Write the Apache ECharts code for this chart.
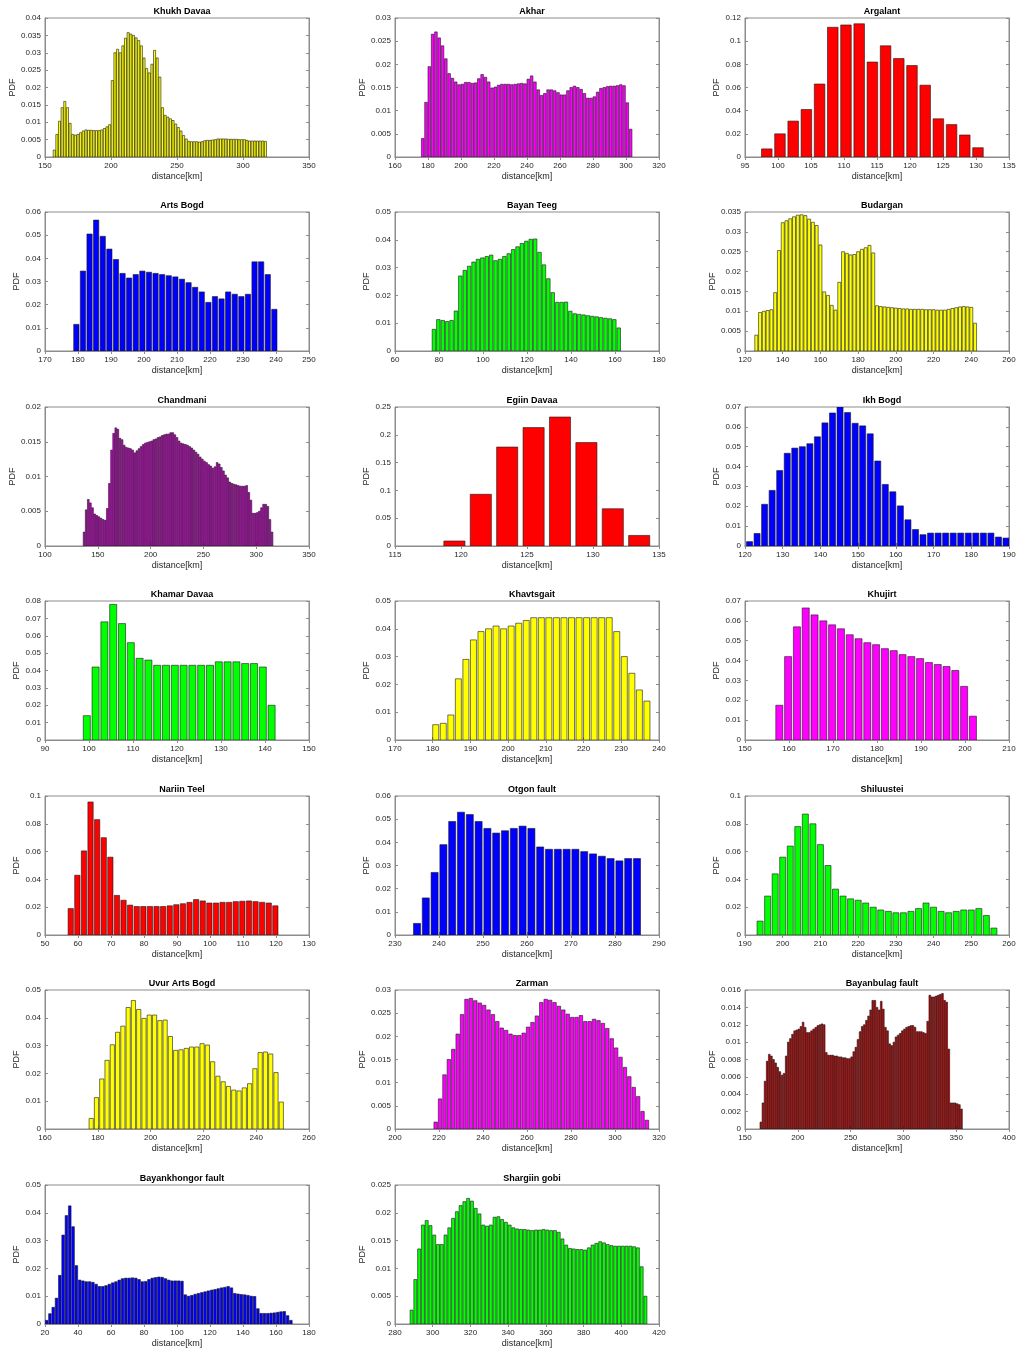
<!DOCTYPE html>
<html><head><meta charset="utf-8">
<script src="https://cdn.jsdelivr.net/npm/echarts@6/dist/echarts.min.js"></script>
<style>html,body{margin:0;padding:0;background:#fff}#c{width:1021px;height:1349px}</style>
</head><body><div id="c"></div>
<script>
// ---------- DATA ----------
const panelNames = ["Khukh Davaa","Akhar","Argalant","Arts Bogd","Bayan Teeg","Budargan","Chandmani","Egiin Davaa","Ikh Bogd","Khamar Davaa","Khavtsgait","Khujirt","Nariin Teel","Otgon fault","Shiluustei","Uvur Arts Bogd","Zarman","Bayanbulag fault","Bayankhongor fault","Shargiin gobi"];

// first bin centre [km], bin width [km]
const binStarts = [157, 176.8, 98.3, 179.5, 77.7, 126, 137, 119.5, 121.2, 99.5, 180.8, 157.8, 57.8, 235, 194, 177.5, 218.5, 165, 21, 288.8];
const binWidths = [2,2,2,2,2,2,2,2,2,2,2,2,2,2,2,2,2,2,2,2];

// x axis: [min, max, interval]; y axis: [min, max, interval]
const xAxisTicks = [[150,350,50],[160,320,20],[95,135,5],[170,250,10],[60,180,20],[120,260,20],[100,350,50],[115,135,5],[120,190,10],[90,150,10],[170,240,10],[150,210,10],[50,130,10],[230,290,10],[190,260,10],[160,260,20],[200,320,20],[150,400,50],[20,180,20],[280,420,20]];
const yAxisTicks = [[0,0.04,0.005],[0,0.03,0.005],[0,0.12,0.02],[0,0.06,0.01],[0,0.05,0.01],[0,0.035,0.005],[0,0.02,0.005],[0,0.25,0.05],[0,0.07,0.01],[0,0.08,0.01],[0,0.05,0.01],[0,0.07,0.01],[0,0.1,0.02],[0,0.06,0.01],[0,0.1,0.02],[0,0.05,0.01],[0,0.03,0.005],[0,0.016,0.002],[0,0.05,0.01],[0,0.025,0.005]];

const khukhDavaa = [0.002,0.0065,0.0103,0.0142,0.016,0.0142,0.0097,0.0065,0.0063,0.0065,0.007,0.0075,0.0078,0.0077,0.0077,0.0076,0.0076,0.0076,0.0078,0.0082,0.0087,0.0093,0.022,0.030,0.031,0.030,0.032,0.0342,0.0358,0.0354,0.035,0.0343,0.0335,0.032,0.0285,0.0255,0.0242,0.0267,0.0307,0.0285,0.023,0.0142,0.012,0.0115,0.011,0.0105,0.0095,0.0085,0.0075,0.0062,0.0052,0.0045,0.0044,0.0044,0.0044,0.0043,0.0044,0.0047,0.0048,0.0048,0.0049,0.005,0.0052,0.0052,0.0052,0.0052,0.0051,0.0051,0.0051,0.0051,0.005,0.005,0.005,0.0048,0.0046,0.0046,0.0046,0.0046,0.0046,0.0046,0.0045];
const akhar = [0.004,0.0118,0.0195,0.0265,0.027,0.0257,0.024,0.0212,0.018,0.017,0.0162,0.0156,0.0157,0.0161,0.0161,0.0159,0.016,0.0169,0.0178,0.0172,0.0162,0.0149,0.0151,0.0155,0.0157,0.0157,0.0157,0.0156,0.0157,0.0158,0.0159,0.0158,0.0168,0.0175,0.0162,0.0145,0.0133,0.0137,0.0145,0.0145,0.0143,0.0139,0.0134,0.0134,0.0143,0.015,0.0153,0.015,0.0146,0.0137,0.0127,0.0127,0.013,0.014,0.0148,0.015,0.0152,0.0153,0.0153,0.0154,0.0156,0.0154,0.0117,0.006];
const argalant = [0.007,0.020,0.031,0.041,0.063,0.112,0.114,0.115,0.082,0.096,0.085,0.079,0.062,0.033,0.028,0.019,0.008];
const artsBogd = [0.0115,0.0345,0.0505,0.0565,0.0495,0.044,0.0395,0.0335,0.0315,0.033,0.0345,0.034,0.0335,0.033,0.0325,0.032,0.031,0.0295,0.0275,0.0255,0.021,0.0235,0.0225,0.0255,0.0245,0.0235,0.0245,0.0385,0.0385,0.033,0.018];
const bayanTeeg = [0.0078,0.0113,0.011,0.0106,0.011,0.0144,0.027,0.029,0.0305,0.032,0.033,0.0335,0.034,0.0345,0.0325,0.033,0.034,0.035,0.0365,0.0375,0.0387,0.0395,0.0402,0.0403,0.0355,0.031,0.026,0.021,0.0175,0.0175,0.0176,0.0143,0.0134,0.0132,0.013,0.0127,0.0125,0.0123,0.012,0.0118,0.0116,0.0113,0.0083];
const budargan = [0.004,0.0097,0.01,0.0102,0.0104,0.0147,0.0253,0.0323,0.0328,0.0333,0.0338,0.0342,0.0343,0.0341,0.0332,0.0324,0.0316,0.0267,0.0149,0.014,0.0115,0.0103,0.0173,0.025,0.0246,0.0242,0.0243,0.025,0.0256,0.026,0.0266,0.0247,0.0114,0.0112,0.0111,0.011,0.0109,0.0108,0.0107,0.0106,0.0106,0.0105,0.0105,0.0105,0.0105,0.0104,0.0104,0.0104,0.0103,0.0103,0.0103,0.0105,0.0107,0.0109,0.0111,0.0112,0.0111,0.011,0.007];
const chandmani = [0.002,0.0052,0.0067,0.0062,0.0055,0.0046,0.0044,0.0042,0.004,0.0038,0.0037,0.0054,0.009,0.0138,0.0162,0.017,0.0168,0.0155,0.0153,0.0145,0.0142,0.0141,0.014,0.0138,0.0134,0.0137,0.014,0.0143,0.0146,0.0148,0.0149,0.015,0.0151,0.0153,0.0154,0.0156,0.0157,0.0159,0.016,0.0161,0.0161,0.0163,0.0163,0.016,0.0156,0.0151,0.0148,0.0147,0.0146,0.0145,0.0143,0.0141,0.0138,0.0135,0.0132,0.0128,0.0125,0.0122,0.012,0.0117,0.0115,0.0112,0.0114,0.012,0.0118,0.0113,0.0108,0.0102,0.0098,0.0092,0.009,0.0089,0.0088,0.0087,0.0086,0.0086,0.0086,0.0087,0.0077,0.0066,0.0047,0.0047,0.0048,0.005,0.0055,0.006,0.006,0.0057,0.0038,0.002];
const egiinDavaa = [0.009,0.093,0.178,0.213,0.232,0.186,0.067,0.019];
const ikhBogd = [0.0022,0.0063,0.021,0.028,0.038,0.0467,0.0493,0.05,0.0515,0.055,0.062,0.067,0.07,0.0672,0.0618,0.0605,0.0565,0.0428,0.031,0.0273,0.0202,0.0132,0.0083,0.0057,0.0065,0.0065,0.0065,0.0065,0.0065,0.0065,0.0065,0.0065,0.0065,0.0045,0.004];
const khamarDavaa = [0.014,0.042,0.068,0.078,0.067,0.056,0.047,0.046,0.043,0.043,0.043,0.043,0.043,0.043,0.043,0.045,0.045,0.045,0.044,0.044,0.042,0.020];
const khavtsgait = [0.0055,0.006,0.009,0.022,0.029,0.036,0.039,0.040,0.041,0.040,0.041,0.042,0.043,0.044,0.044,0.044,0.044,0.044,0.044,0.044,0.044,0.044,0.044,0.044,0.039,0.030,0.024,0.018,0.014];
const khujirt = [0.0175,0.042,0.057,0.0665,0.063,0.060,0.058,0.056,0.053,0.051,0.049,0.048,0.046,0.045,0.043,0.042,0.041,0.039,0.038,0.037,0.035,0.027,0.012];
const nariinTeel = [0.019,0.043,0.0605,0.0957,0.083,0.070,0.056,0.0285,0.025,0.0215,0.0205,0.0205,0.0205,0.0205,0.0205,0.021,0.0218,0.0225,0.0235,0.0255,0.0245,0.023,0.023,0.0235,0.0235,0.024,0.0243,0.0245,0.024,0.0235,0.023,0.021];
const otgonFault = [0.005,0.016,0.027,0.039,0.049,0.053,0.052,0.049,0.046,0.044,0.045,0.046,0.047,0.046,0.038,0.037,0.037,0.037,0.037,0.036,0.035,0.034,0.033,0.032,0.033,0.033];
const shiluustei = [0.010,0.028,0.044,0.056,0.064,0.078,0.087,0.080,0.065,0.050,0.033,0.028,0.026,0.025,0.023,0.020,0.018,0.017,0.016,0.016,0.017,0.019,0.023,0.020,0.017,0.016,0.017,0.018,0.018,0.019,0.014,0.005];
const uvurArtsBogd = [0.0038,0.0113,0.018,0.0247,0.0303,0.0348,0.037,0.0437,0.0462,0.043,0.0398,0.041,0.041,0.039,0.0392,0.0333,0.0283,0.0285,0.029,0.0295,0.0295,0.0307,0.0302,0.0242,0.019,0.017,0.0153,0.014,0.0137,0.0148,0.0163,0.0217,0.0275,0.0277,0.027,0.0203,0.0097];
const zarman = [0.0015,0.0065,0.0117,0.015,0.0172,0.0205,0.0247,0.028,0.0282,0.0277,0.0272,0.0267,0.0257,0.0247,0.0232,0.0218,0.0213,0.0205,0.0202,0.0202,0.0207,0.022,0.023,0.0244,0.0273,0.028,0.0278,0.0273,0.0265,0.0257,0.0248,0.0241,0.0241,0.0245,0.0232,0.0232,0.0237,0.0234,0.0228,0.0217,0.0195,0.0175,0.0155,0.0133,0.0113,0.009,0.007,0.0038,0.0019];
const bayanbulagFault = [0.0008,0.003,0.0055,0.0078,0.0086,0.0084,0.008,0.0076,0.0071,0.0066,0.0062,0.0064,0.0084,0.01,0.0104,0.0109,0.0113,0.0114,0.0115,0.0118,0.0123,0.0117,0.0111,0.0111,0.0113,0.0115,0.0117,0.0119,0.012,0.0121,0.012,0.0088,0.0085,0.0085,0.0085,0.0084,0.0084,0.0083,0.0083,0.0082,0.0082,0.0081,0.0081,0.0083,0.0089,0.0094,0.0103,0.0112,0.0118,0.012,0.0125,0.013,0.0137,0.0148,0.0148,0.014,0.0137,0.0147,0.0138,0.0117,0.0113,0.0098,0.0096,0.01,0.0106,0.0108,0.011,0.0113,0.0115,0.0117,0.0118,0.0119,0.0119,0.0117,0.0112,0.0112,0.0112,0.0111,0.011,0.0124,0.0154,0.0152,0.0152,0.0153,0.0154,0.0155,0.0156,0.0148,0.0146,0.0092,0.003,0.003,0.003,0.0029,0.0028,0.0023];
const bayankhongorFault = [0.0013,0.0037,0.006,0.0093,0.0175,0.032,0.039,0.0425,0.035,0.021,0.0158,0.0155,0.0152,0.0152,0.015,0.0143,0.0135,0.0135,0.0138,0.0143,0.0148,0.0152,0.0158,0.0163,0.0165,0.0165,0.0166,0.0165,0.016,0.0152,0.0153,0.016,0.0165,0.0167,0.0169,0.0168,0.0163,0.0158,0.0155,0.0155,0.0155,0.0154,0.0105,0.01,0.0103,0.0107,0.011,0.0113,0.0116,0.0119,0.0122,0.0124,0.0127,0.013,0.0132,0.0135,0.013,0.011,0.0108,0.0106,0.0105,0.0103,0.01,0.0099,0.0055,0.0038,0.0038,0.0038,0.0039,0.004,0.0042,0.0044,0.0045,0.003,0.0013];
const shargiinGobi = [0.0025,0.008,0.0135,0.0178,0.0186,0.0177,0.016,0.0143,0.0143,0.016,0.0173,0.019,0.0202,0.0213,0.022,0.0226,0.0221,0.0208,0.0198,0.0178,0.0176,0.0178,0.0192,0.0193,0.0188,0.0183,0.0178,0.0173,0.0171,0.017,0.017,0.0169,0.0168,0.0169,0.0169,0.017,0.0169,0.0168,0.0168,0.0165,0.0153,0.0142,0.0136,0.0135,0.0134,0.0134,0.0133,0.0137,0.0142,0.0145,0.0148,0.0146,0.0143,0.0141,0.014,0.014,0.014,0.014,0.014,0.0139,0.0137,0.0103,0.005];

const panelValues = [khukhDavaa, akhar, argalant, artsBogd, bayanTeeg, budargan, chandmani, egiinDavaa, ikhBogd, khamarDavaa, khavtsgait, khujirt, nariinTeel, otgonFault, shiluustei, uvurArtsBogd, zarman, bayanbulagFault, bayankhongorFault, shargiinGobi];

// ---------- STYLE ----------
const panelColors = ['#ffff00','#ff00ff','#ff0000','#0000ff','#00ff00','#ffff00','#c800c8','#ff0000','#0000ff','#00ff00','#ffff00','#ff00ff','#ff0000','#0000ff','#00ff00','#ffff00','#ff00ff','#c00000','#0000ff','#00ff00'];
const colLeft = [45, 395, 745];
const rowTop = [18, 212, 407, 601, 796, 990, 1185];
const plotW = 264, plotH = 139;
const FONT = 'Liberation Sans, Arial, Helvetica, sans-serif';
const boxColor = '#8c8c8c';
const labelColor = '#262626';

function decimals(v){ const s = String(v); const i = s.indexOf('.'); return i < 0 ? 0 : s.length - i - 1; }

const chart = echarts.init(document.getElementById('c'), null, {renderer:'canvas'});
const grids = [], xAxes = [], yAxes = [], series = [], titles = [];

panelNames.forEach((name, i) => {
  const row = Math.floor(i / 3), col = i % 3;
  const left = colLeft[col], top = rowTop[row];
  grids.push({left: left, top: top, width: plotW, height: plotH, show: true, borderColor: boxColor, borderWidth: 1, backgroundColor: '#fff', containLabel: false, outerBoundsMode: 'none'});
  const [xmin, xmax, xint] = xAxisTicks[i];
  const [ymin, ymax, yint] = yAxisTicks[i];
  const dec = decimals(yint);
  const maxLen = Math.max(...[ymax, ymax - yint].map(v => v.toFixed(dec).replace(/0+$/,'').replace(/\.$/,'').length));
  const nameGap = maxLen >= 5 ? 28 : (maxLen === 4 ? 24 : 20);
  const common = {gridIndex: i, type: 'value', splitLine: {show: false},
    axisLine: {show: true, lineStyle: {color: boxColor, width: 1}},
    axisTick: {show: true, inside: true, length: 3, lineStyle: {color: boxColor}}};
  xAxes.push(Object.assign({}, common, {position: 'bottom', min: xmin, max: xmax, interval: xint,
    name: 'distance[km]', nameLocation: 'middle', nameGap: 15,
    nameTextStyle: {fontFamily: FONT, fontSize: 9, color: labelColor},
    axisLabel: {show: true, fontFamily: FONT, fontSize: 8, color: labelColor, margin: 5, showMinLabel: true, showMaxLabel: true, hideOverlap: false}}));
  xAxes.push(Object.assign({}, common, {position: 'top', min: xmin, max: xmax, interval: xint, axisLabel: {show: false}}));
  yAxes.push(Object.assign({}, common, {position: 'left', min: ymin, max: ymax, interval: yint,
    name: 'PDF', nameLocation: 'middle', nameGap: nameGap, nameRotate: 90,
    nameTextStyle: {fontFamily: FONT, fontSize: 9, color: labelColor},
    axisLabel: {show: true, fontFamily: FONT, fontSize: 8, color: labelColor, margin: 4, showMinLabel: true, showMaxLabel: true, hideOverlap: false,
      formatter: v => parseFloat(v.toFixed(dec)).toString()}}));
  yAxes.push(Object.assign({}, common, {position: 'right', min: ymin, max: ymax, interval: yint, axisLabel: {show: false}}));

  titles.push({text: name, left: left + plotW / 2, top: top - 16, textAlign: 'center',
    textStyle: {fontFamily: FONT, fontSize: 9, fontWeight: 'bold', color: '#000'}});

  const start = binStarts[i], bw = binWidths[i], color = panelColors[i];
  const data = panelValues[i].map((v, k) => [start + k * bw, v]);
  series.push({type: 'custom', xAxisIndex: 2 * i, yAxisIndex: 2 * i, clip: true, silent: true,
    encode: {x: 0, y: 1}, data: data,
    renderItem: function (params, api) {
      const c = api.value(0), v = api.value(1);
      const half = bw * 0.4;
      const p0 = api.coord([c - half, v]);
      const p1 = api.coord([c + half, 0]);
      return {type: 'rect', shape: {x: p0[0], y: p0[1], width: p1[0] - p0[0], height: p1[1] - p0[1]},
        style: {fill: color, stroke: '#1a1a1a', lineWidth: 0.6}};
    }});
});

chart.setOption({animation: false, backgroundColor: '#fff', title: titles, grid: grids, xAxis: xAxes, yAxis: yAxes, series: series});
</script></body></html>
